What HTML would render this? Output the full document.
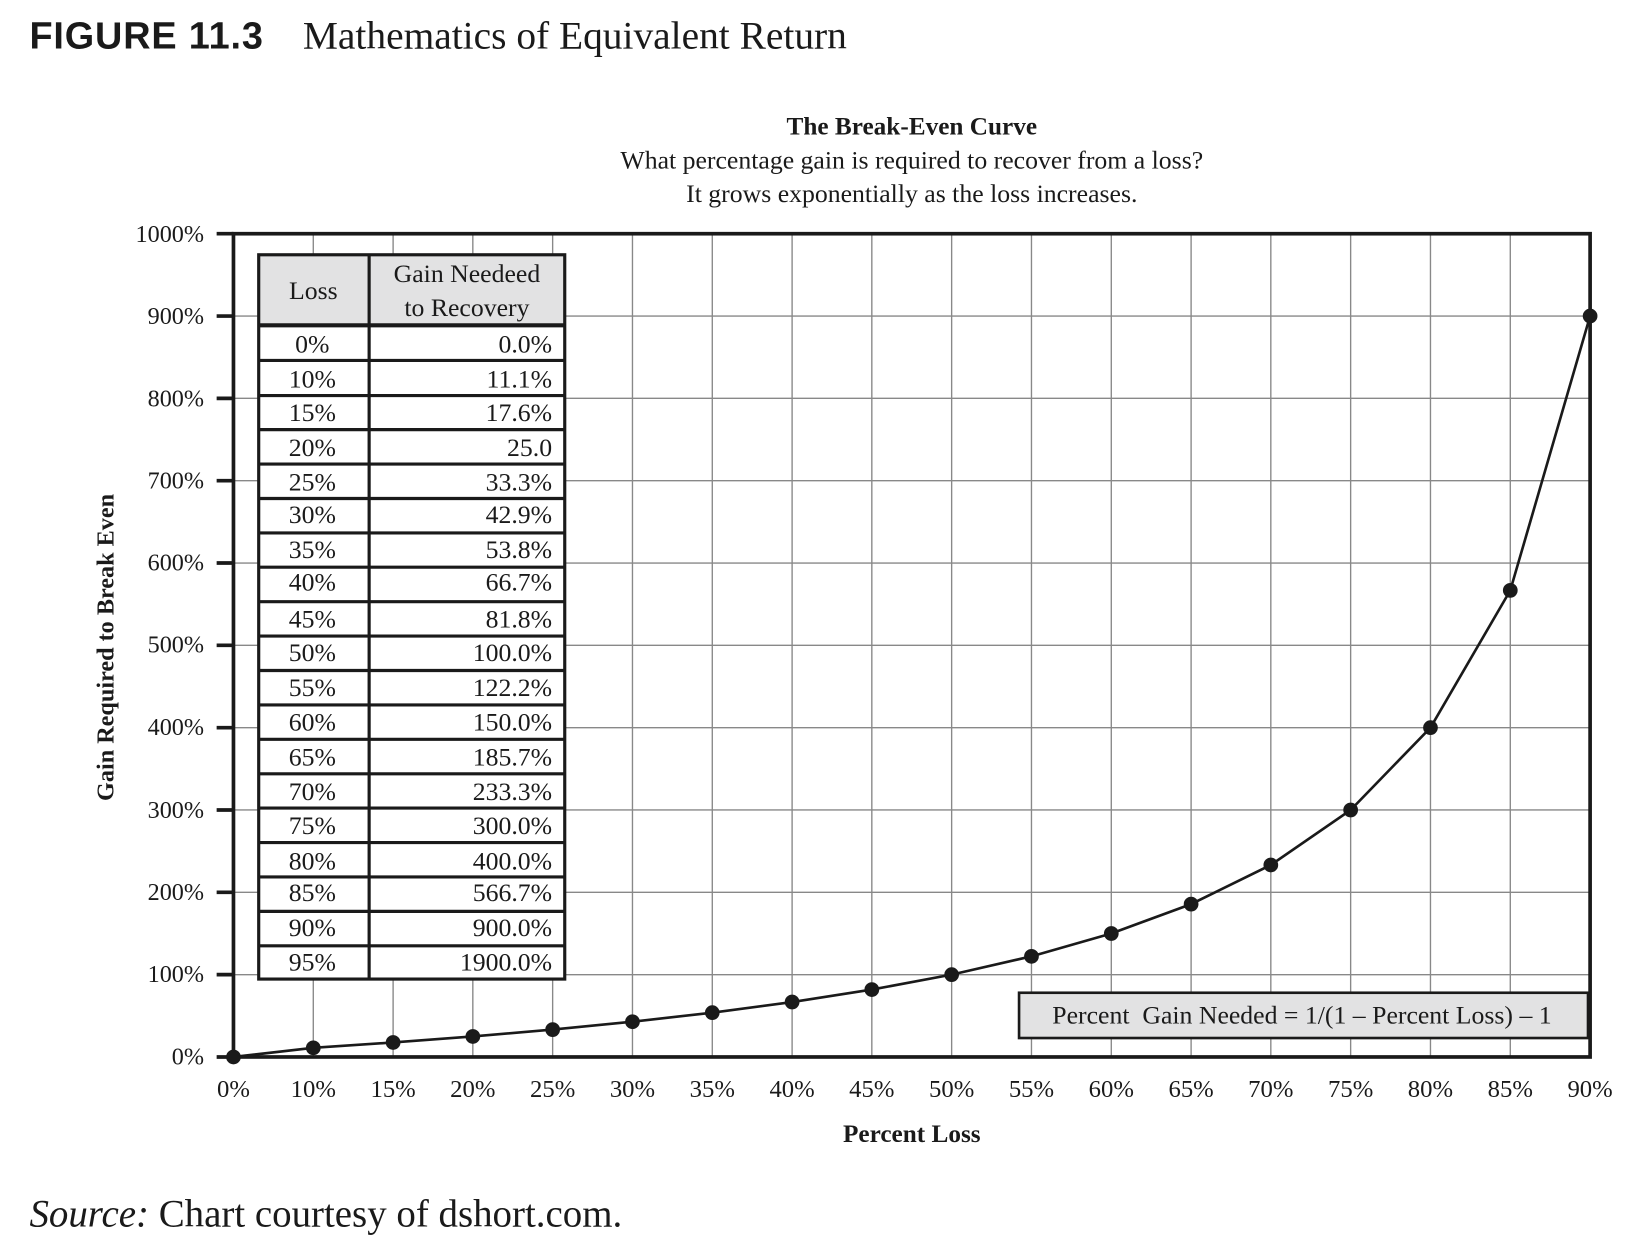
<!DOCTYPE html>
<html><head><meta charset="utf-8"><style>
html,body{margin:0;padding:0;background:#fff;width:1649px;height:1257px;overflow:hidden}
svg{display:block}
text{font-family:"Liberation Serif",serif;fill:#1a1a1a}
</style></head><body>
<svg width="1649" height="1257" viewBox="0 0 1568 1194" preserveAspectRatio="none" xmlns="http://www.w3.org/2000/svg">
<text x="28" y="46" style="font-family:'Liberation Sans',sans-serif;font-weight:bold;font-size:36px" textLength="222">FIGURE 11.3</text>
<text x="288" y="46" font-size="37.5">Mathematics of Equivalent Return</text>
<text x="867" y="128" font-size="24" font-weight="bold" text-anchor="middle">The Break-Even Curve</text>
<text x="867" y="160" font-size="24.5" text-anchor="middle">What percentage gain is required to recover from a loss?</text>
<text x="867" y="192" font-size="24.5" text-anchor="middle">It grows exponentially as the loss increases.</text>
<g stroke="#888" stroke-width="1.3">
<line x1="297.9" y1="222" x2="297.9" y2="1004"/><line x1="373.8" y1="222" x2="373.8" y2="1004"/><line x1="449.6" y1="222" x2="449.6" y2="1004"/><line x1="525.5" y1="222" x2="525.5" y2="1004"/><line x1="601.4" y1="222" x2="601.4" y2="1004"/><line x1="677.3" y1="222" x2="677.3" y2="1004"/><line x1="753.2" y1="222" x2="753.2" y2="1004"/><line x1="829" y1="222" x2="829" y2="1004"/><line x1="904.9" y1="222" x2="904.9" y2="1004"/><line x1="980.8" y1="222" x2="980.8" y2="1004"/><line x1="1056.7" y1="222" x2="1056.7" y2="1004"/><line x1="1132.6" y1="222" x2="1132.6" y2="1004"/><line x1="1208.4" y1="222" x2="1208.4" y2="1004"/><line x1="1284.3" y1="222" x2="1284.3" y2="1004"/><line x1="1360.2" y1="222" x2="1360.2" y2="1004"/><line x1="1436.1" y1="222" x2="1436.1" y2="1004"/>
<line x1="222" y1="925.8" x2="1512" y2="925.8"/><line x1="222" y1="847.6" x2="1512" y2="847.6"/><line x1="222" y1="769.4" x2="1512" y2="769.4"/><line x1="222" y1="691.2" x2="1512" y2="691.2"/><line x1="222" y1="613" x2="1512" y2="613"/><line x1="222" y1="534.8" x2="1512" y2="534.8"/><line x1="222" y1="456.6" x2="1512" y2="456.6"/><line x1="222" y1="378.4" x2="1512" y2="378.4"/><line x1="222" y1="300.2" x2="1512" y2="300.2"/>
</g>
<rect x="222" y="222" width="1290" height="782" fill="none" stroke="#1a1a1a" stroke-width="3.5"/>
<g stroke="#1a1a1a" stroke-width="3.5">
<line x1="206" y1="1004" x2="222" y2="1004"/><line x1="206" y1="925.8" x2="222" y2="925.8"/><line x1="206" y1="847.6" x2="222" y2="847.6"/><line x1="206" y1="769.4" x2="222" y2="769.4"/><line x1="206" y1="691.2" x2="222" y2="691.2"/><line x1="206" y1="613" x2="222" y2="613"/><line x1="206" y1="534.8" x2="222" y2="534.8"/><line x1="206" y1="456.6" x2="222" y2="456.6"/><line x1="206" y1="378.4" x2="222" y2="378.4"/><line x1="206" y1="300.2" x2="222" y2="300.2"/><line x1="206" y1="222" x2="222" y2="222"/>
</g>
<g font-size="23" text-anchor="end">
<text x="194" y="1011">0%</text><text x="194" y="933">100%</text><text x="194" y="855">200%</text><text x="194" y="777">300%</text><text x="194" y="698">400%</text><text x="194" y="620">500%</text><text x="194" y="542">600%</text><text x="194" y="464">700%</text><text x="194" y="386">800%</text><text x="194" y="308">900%</text><text x="194" y="230">1000%</text>
</g>
<g font-size="23.5" text-anchor="middle">
<text x="222" y="1042">0%</text><text x="297.9" y="1042">10%</text><text x="373.8" y="1042">15%</text><text x="449.6" y="1042">20%</text><text x="525.5" y="1042">25%</text><text x="601.4" y="1042">30%</text><text x="677.3" y="1042">35%</text><text x="753.2" y="1042">40%</text><text x="829" y="1042">45%</text><text x="904.9" y="1042">50%</text><text x="980.8" y="1042">55%</text><text x="1056.7" y="1042">60%</text><text x="1132.6" y="1042">65%</text><text x="1208.4" y="1042">70%</text><text x="1284.3" y="1042">75%</text><text x="1360.2" y="1042">80%</text><text x="1436.1" y="1042">85%</text><text x="1512" y="1042">90%</text>
</g>
<text x="867" y="1085" font-size="24" font-weight="bold" text-anchor="middle">Percent Loss</text>
<text transform="translate(108,615) rotate(-90)" font-size="23" font-weight="bold" text-anchor="middle">Gain Required to Break Even</text>
<polyline fill="none" stroke="#1a1a1a" stroke-width="2.5" points="222,1004 297.9,995.3 373.8,990.2 449.6,984.5 525.5,978 601.4,970.5 677.3,961.9 753.2,951.8 829,940 904.9,925.8 980.8,908.4 1056.7,886.7 1132.6,858.8 1208.4,821.6 1284.3,769.4 1360.2,691.2 1436.1,560.8 1512,300.2"/>
<g fill="#1a1a1a">
<circle cx="222" cy="1004" r="7"/><circle cx="297.9" cy="995.3" r="7"/><circle cx="373.8" cy="990.2" r="7"/><circle cx="449.6" cy="984.5" r="7"/><circle cx="525.5" cy="978" r="7"/><circle cx="601.4" cy="970.5" r="7"/><circle cx="677.3" cy="961.9" r="7"/><circle cx="753.2" cy="951.8" r="7"/><circle cx="829" cy="940" r="7"/><circle cx="904.9" cy="925.8" r="7"/><circle cx="980.8" cy="908.4" r="7"/><circle cx="1056.7" cy="886.7" r="7"/><circle cx="1132.6" cy="858.8" r="7"/><circle cx="1208.4" cy="821.6" r="7"/><circle cx="1284.3" cy="769.4" r="7"/><circle cx="1360.2" cy="691.2" r="7"/><circle cx="1436.1" cy="560.8" r="7"/><circle cx="1512" cy="300.2" r="7"/>
</g>
<rect x="246" y="242" width="291" height="688" fill="#fff"/>
<rect x="246" y="242" width="291" height="67" fill="#e2e2e3"/>
<g stroke="#1a1a1a" stroke-width="3" fill="none">
<rect x="246" y="242" width="291" height="688"/>
<line x1="351" y1="242" x2="351" y2="930"/>
<line x1="246" y1="309" x2="537" y2="309" stroke-width="4"/>
<line x1="246" y1="342.4" x2="537" y2="342.4"/><line x1="246" y1="375.7" x2="537" y2="375.7"/><line x1="246" y1="408.1" x2="537" y2="408.1"/><line x1="246" y1="440.8" x2="537" y2="440.8"/><line x1="246" y1="473.5" x2="537" y2="473.5"/><line x1="246" y1="506.2" x2="537" y2="506.2"/><line x1="246" y1="538.8" x2="537" y2="538.8"/><line x1="246" y1="571.5" x2="537" y2="571.5"/><line x1="246" y1="604.2" x2="537" y2="604.2"/><line x1="246" y1="636.9" x2="537" y2="636.9"/><line x1="246" y1="669.6" x2="537" y2="669.6"/><line x1="246" y1="702.3" x2="537" y2="702.3"/><line x1="246" y1="735" x2="537" y2="735"/><line x1="246" y1="767.6" x2="537" y2="767.6"/><line x1="246" y1="800.3" x2="537" y2="800.3"/><line x1="246" y1="833" x2="537" y2="833"/><line x1="246" y1="865.7" x2="537" y2="865.7"/><line x1="246" y1="898.4" x2="537" y2="898.4"/>
</g>
<g font-size="24.5">
<text x="298" y="284" text-anchor="middle">Loss</text>
<text x="444" y="268" text-anchor="middle">Gain Needeed</text>
<text x="444" y="300" text-anchor="middle">to Recovery</text>
</g>
<g font-size="24.5" text-anchor="middle">
<text x="297" y="335">0%</text><text x="297" y="368">10%</text><text x="297" y="400">15%</text><text x="297" y="433">20%</text><text x="297" y="466">25%</text><text x="297" y="497">30%</text><text x="297" y="530">35%</text><text x="297" y="561">40%</text><text x="297" y="596">45%</text><text x="297" y="628">50%</text><text x="297" y="661">55%</text><text x="297" y="694">60%</text><text x="297" y="727">65%</text><text x="297" y="760">70%</text><text x="297" y="792">75%</text><text x="297" y="826">80%</text><text x="297" y="856">85%</text><text x="297" y="889">90%</text><text x="297" y="922">95%</text>
</g>
<g font-size="24.5" text-anchor="end">
<text x="525" y="335">0.0%</text><text x="525" y="368">11.1%</text><text x="525" y="400">17.6%</text><text x="525" y="433">25.0</text><text x="525" y="466">33.3%</text><text x="525" y="497">42.9%</text><text x="525" y="530">53.8%</text><text x="525" y="561">66.7%</text><text x="525" y="596">81.8%</text><text x="525" y="628">100.0%</text><text x="525" y="661">122.2%</text><text x="525" y="694">150.0%</text><text x="525" y="727">185.7%</text><text x="525" y="760">233.3%</text><text x="525" y="792">300.0%</text><text x="525" y="826">400.0%</text><text x="525" y="856">566.7%</text><text x="525" y="889">900.0%</text><text x="525" y="922">1900.0%</text>
</g>
<rect x="969" y="943" width="541" height="43" fill="#e2e2e3" stroke="#1a1a1a" stroke-width="2.5"/>
<text x="1238" y="972" font-size="24.5" text-anchor="middle" xml:space="preserve">Percent  Gain Needed = 1/(1 – Percent Loss) – 1</text>
<text x="28" y="1165" font-size="37"><tspan font-style="italic">Source:</tspan> Chart courtesy of dshort.com.</text>
</svg>
</body></html>
